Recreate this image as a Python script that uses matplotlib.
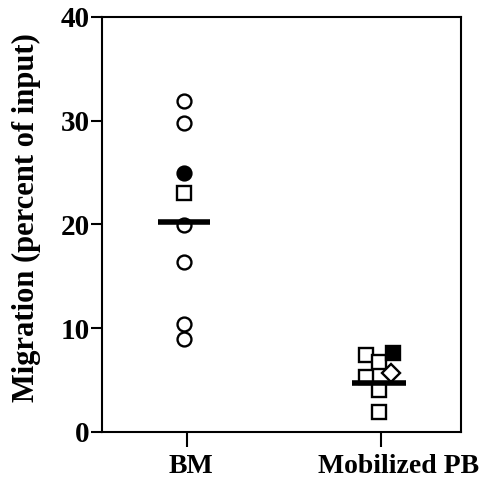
from matplotlib import pyplot as plt
from matplotlib.transforms import ScaledTranslation

# group positions and labels
groups = ['BM', 'Mobilized PB']

# BM values (percent of input)
bm_open_circles = [31.9, 29.8, 19.95, 16.4, 10.4, 9.0]
bm_filled_circles = [25.0]
bm_open_squares = [23.0]
bm_median = 20.2

# Mobilized PB values (x offsets are jitter around the group position)
pb_open_squares_x = [-0.08, -0.01, -0.08, -0.01, -0.01]
pb_open_squares = [7.4, 6.75, 5.3, 4.05, 1.9]
pb_filled_squares_x = [0.06]
pb_filled_squares = [7.6]
pb_diamonds_x = [0.05]
pb_diamonds = [5.7]
pb_median = 4.7

yticks = [0, 10, 20, 30, 40]

plt.rcParams['font.family'] = ['Liberation Serif', 'DejaVu Serif']
plt.rcParams['font.weight'] = 'bold'

fig = plt.figure(figsize=(4.86, 4.80), dpi=100)
ax = fig.add_axes([0.2099, 0.10, 0.7387, 0.8646])

mk = dict(markersize=10, markeredgewidth=1.7, markeredgecolor='black', linestyle='none')

ax.plot([-0.015] * len(bm_open_circles), bm_open_circles, 'o', markerfacecolor='white', **mk)
ax.plot([-0.015] * len(bm_filled_circles), bm_filled_circles, 'o', markerfacecolor='black', **mk)
ax.plot([-0.015] * len(bm_open_squares), bm_open_squares, 's', markerfacecolor='white', **mk)

ax.plot([1 + x for x in pb_open_squares_x], pb_open_squares, 's', markerfacecolor='white', **mk)
ax.plot([1 + x for x in pb_filled_squares_x], pb_filled_squares, 's', markerfacecolor='black', **mk)
ax.plot([1 + x for x in pb_diamonds_x], pb_diamonds, 'D', markerfacecolor='white',
        markersize=9, markeredgewidth=1.7, markeredgecolor='black', linestyle='none')

# medians
ax.plot([-0.15, 0.12], [bm_median, bm_median], color='black', lw=4, solid_capstyle='butt')
ax.plot([1 - 0.15, 1 + 0.13], [pb_median, pb_median], color='black', lw=4, solid_capstyle='butt')

ax.set_xlim(-0.438, 1.412)
ax.set_ylim(0, 40)
ax.set_xticks([0, 1])
ax.set_xticklabels(groups, fontsize=20, fontweight='bold')
ax.set_yticks(yticks)
ax.set_yticklabels([str(t) for t in yticks], fontsize=21, fontweight='bold')
ax.tick_params(axis='y', length=8, width=1.5, pad=1)
ax.tick_params(axis='x', length=11, width=1.5, pad=5)
for s in ax.spines.values():
    s.set_linewidth(1.5)

# the labels sit a little right of their ticks in the original
for lab, dx in zip(ax.get_xticklabels(), [4, 17]):
    lab.set_transform(lab.get_transform() + ScaledTranslation(dx / 100, 0, fig.dpi_scale_trans))

ax.set_ylabel('Migration (percent of input)', fontsize=22, fontweight='bold')
ax.yaxis.set_label_coords(-0.17, 0.516)

fig.savefig('out.png', dpi=100)
